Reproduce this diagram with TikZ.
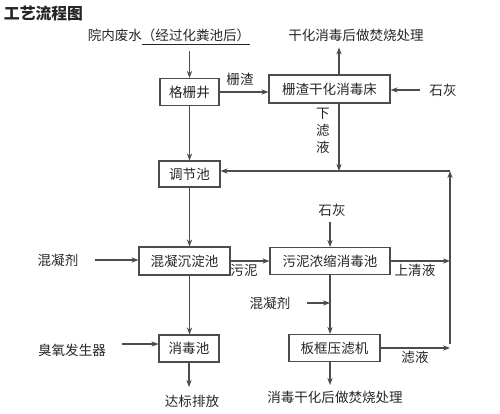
\documentclass[tikz,border=0pt]{standalone}
\usepackage{fontspec}
\setmainfont{Noto Sans CJK SC}
\usepackage{tikz}
\usetikzlibrary{arrows.meta}

\begin{document}
\begin{tikzpicture}
	\tikzstyle{every node}=[font=\fontsize{7.7}{9.6}\selectfont,text=black!85];
	\tikzstyle{box}=[draw=black!70,line width=0.6pt,shape=rectangle,minimum height=0.54cm];
	\tikzstyle{arr}=[draw=black!70,line width=0.6pt,-{Stealth[length=4pt,width=3pt]}];
	\useasboundingbox (0,0) rectangle (10,-8.26);
	\node[font=\fontsize{9}{11}\selectfont\bfseries] (t) at (0.87,-0.26) {工艺流程图};
	\node (v0) at (3.38,-0.74) {院内废水\underline{（经过化粪池后）}};
	\node[box,minimum width=1.18cm] (v1) at (3.79,-1.84) {格栅井};
	\node[box,minimum width=2.42cm,minimum height=0.56cm] (v2) at (6.59,-1.78) {栅渣干化消毒床};
	\node (v3) at (7.12,-0.70) {干化消毒后做焚烧处理};
	\node (v4) at (8.86,-1.80) {石灰};
	\node (l1) at (4.80,-1.58) {栅渣};
	\node[align=center] (l2) at (6.46,-2.62) {下\\滤\\液};
	\node[box,minimum width=1.22cm,minimum height=0.52cm] (v5) at (3.79,-3.48) {调节池};
	\node[box,minimum width=1.82cm,minimum height=0.56cm] (v6) at (3.69,-5.22) {混凝沉淀池};
	\node (v7) at (1.16,-5.20) {混凝剂};
	\node[box,minimum width=2.40cm] (v8) at (6.60,-5.22) {污泥浓缩消毒池};
	\node (l3) at (4.88,-5.40) {污泥};
	\node (v9) at (6.64,-4.20) {石灰};
	\node (l4) at (8.30,-5.40) {上清液};
	\node[box,minimum width=1.82cm] (v10) at (6.69,-6.96) {板框压滤机};
	\node (v11) at (5.40,-6.06) {混凝剂};
	\node (l5) at (8.30,-7.14) {滤液};
	\node[box,minimum width=1.20cm] (v12) at (3.78,-6.97) {消毒池};
	\node (v13) at (1.44,-7.00) {臭氧发生器};
	\node (v14) at (3.84,-8.02) {达标排放};
	\node (v15) at (6.70,-7.94) {消毒干化后做焚烧处理};
	\coordinate (r1) at (9.0,-3.42);
	\coordinate (r2) at (9.0,-6.88);
	\draw[arr] (v0.south -| v1.north) -- (v1.north);
	\draw[arr] (v1.east) -- (v1.east -| v2.west);
	\draw[arr] ([xshift=0.19cm]v2.north) -- ([xshift=0.19cm]v2.north |- v3.south);
	\draw[arr,shorten <=2pt] (v4.west) -- (v4.west -| v2.east);
	\draw[arr] ([xshift=0.19cm]v2.south) -- ([xshift=0.19cm]v2.south |- r1);
	\draw[arr] (r2) -- (r1);
	\draw[arr] (r1) -- (r1 -| v5.east);
	\draw[arr] (v1.south) -- (v5.north);
	\draw[arr] (v5.south) -- (v5.south |- v6.north);
	\draw[arr,shorten <=0.2cm] (v7.east) -- (v7.east -| v6.west);
	\draw[arr] (v6.east) -- (v6.east -| v8.west);
	\draw[arr] (v9.south -| v8.north) -- (v8.north);
	\draw[arr] (v8.east) -- (v8.east -| r1);
	\draw[arr] (v8.south) -- (v8.south |- v10.north);
	\draw[arr,shorten <=0.2cm] (v11.east) -- (v11.east -| v8.south);
	\draw[arr] (v10.east) -- (v10.east -| r2);
	\draw[arr] (v8.south |- v10.south) -- (v8.south |- 0,-7.70);
	\draw[arr] (v6.south -| v5.south) -- (v5.south |- v12.north);
	\draw[arr,shorten <=0.2cm] (v13.east |- 0,-6.88) -- (v12.west |- 0,-6.88);
	\draw[arr] (v12.south) -- (v12.south |- 0,-7.74);
\end{tikzpicture}
\end{document}
